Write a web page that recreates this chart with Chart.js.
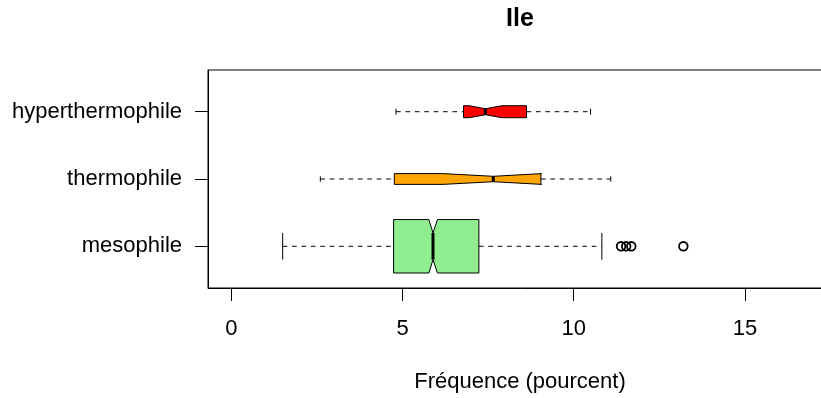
<!DOCTYPE html>
<html>
<head>
<meta charset="utf-8">
<script src="https://cdn.jsdelivr.net/npm/chart.js@4.4.1/dist/chart.umd.min.js"></script>
<style>
  html, body { margin: 0; padding: 0; background: #fff; overflow: hidden; }
  #wrap { width: 860px; height: 398px; }
</style>
</head>
<body>
<div id="wrap"><canvas id="c" width="860" height="398"></canvas></div>
<script>
// Five-number summaries per group (percent), bottom to top
const categories  = ['mesophile', 'thermophile', 'hyperthermophile'];
const whiskerLow  = [1.50, 2.60, 4.81];
const q1          = [4.74, 4.76, 6.78];
const median      = [5.89, 7.65, 7.42];
const q3          = [7.23, 9.04, 8.62];
const whiskerHigh = [10.82, 11.08, 10.49];
// Notch limits around the median
const notchLow    = [5.77, 6.18, 6.94];
const notchHigh   = [6.02, 9.06, 7.90];
// Outlying values of the mesophile group
const mesophileOutliers = [11.38, 11.53, 11.68, 13.20];
const xTicks = [0, 5, 10, 15];

// Appearance
const FONT = '"Liberation Sans", Arial, Helvetica, sans-serif';
const boxFill = ['#90EE90', '#FFA500', '#FF0000'];
const boxHalf = [0.397, 0.080, 0.089];   // half box thickness, in y-axis units (varwidth)

const boxPlugin = {
  id: 'notchedBoxes',
  beforeDatasetsDraw(chart) {
    const { ctx, scales: { x, y } } = chart;
    const X = v => x.getPixelForValue(v);
    const seg = (x0, y0, x1, y1) => { ctx.beginPath(); ctx.moveTo(x0, y0); ctx.lineTo(x1, y1); ctx.stroke(); };
    categories.forEach((c, i) => {
      const yc = y.getPixelForValue(i + 1);
      const hw = Math.abs(y.getPixelForValue(i + 1 + boxHalf[i]) - yc);
      const nw = hw / 2;
      ctx.save();
      ctx.strokeStyle = '#000';
      ctx.lineWidth = 1;
      // dashed whiskers
      ctx.setLineDash([4.7, 4.7]);
      seg(X(whiskerLow[i]), yc, X(q1[i]), yc);
      seg(X(q3[i]), yc, X(whiskerHigh[i]), yc);
      ctx.setLineDash([]);
      // staples
      seg(X(whiskerLow[i]), yc - nw, X(whiskerLow[i]), yc + nw);
      seg(X(whiskerHigh[i]), yc - nw, X(whiskerHigh[i]), yc + nw);
      // notched box
      const pts = [
        [q1[i], -hw], [notchLow[i], -hw], [median[i], -nw], [notchHigh[i], -hw], [q3[i], -hw],
        [q3[i], hw], [notchHigh[i], hw], [median[i], nw], [notchLow[i], hw], [q1[i], hw]
      ];
      ctx.beginPath();
      pts.forEach(([v, d], k) => k ? ctx.lineTo(X(v), yc + d) : ctx.moveTo(X(v), yc + d));
      ctx.closePath();
      ctx.fillStyle = boxFill[i];
      ctx.fill();
      ctx.stroke();
      // median bar
      ctx.lineWidth = 3;
      seg(X(median[i]), yc - nw, X(median[i]), yc + nw);
      ctx.restore();
    });
  },
  afterDraw(chart) {
    const { ctx, chartArea: a } = chart;
    ctx.save();
    ctx.strokeStyle = '#000';
    ctx.lineWidth = 1;
    ctx.strokeRect(a.left, a.top, a.right - a.left, a.bottom - a.top);
    ctx.restore();
  }
};

new Chart(document.getElementById('c'), {
  type: 'scatter',
  data: {
    datasets: [{
      label: 'outliers',
      data: mesophileOutliers.map(v => ({ x: v, y: 1 })),
      pointStyle: 'circle',
      pointRadius: 4.3,
      pointBorderWidth: 1.8,
      borderColor: '#000',
      backgroundColor: 'rgba(0,0,0,0)',
      showLine: false
    }]
  },
  options: {
    responsive: false,
    animation: false,
    devicePixelRatio: 1,
    layout: { padding: { left: 0, right: 28, top: 0, bottom: 0 } },
    plugins: {
      legend: { display: false },
      tooltip: { enabled: false },
      title: {
        display: true,
        text: 'Ile',
        color: '#000',
        fullSize: false,
        font: { family: FONT, size: 25, weight: 'bold', lineHeight: 1.2 },
        padding: { top: 4.2, bottom: 35.8 }
      }
    },
    scales: {
      x: {
        type: 'linear',
        min: -0.68,
        max: 17.54,
        afterBuildTicks: s => { s.ticks = xTicks.map(v => ({ value: v })); },
        afterFit: s => { s.height = 110; },
        ticks: { color: '#000', font: { family: FONT, size: 22 }, padding: 14.4, maxRotation: 0, autoSkip: false },
        grid: { display: true, drawOnChartArea: false, drawTicks: true, tickLength: 13, color: '#000' },
        border: { display: true, color: '#000' },
        title: {
          display: true,
          text: 'Fréquence (pourcent)',
          color: '#000',
          font: { family: FONT, size: 22, lineHeight: 1.2 },
          padding: { top: 0, bottom: 3 }
        }
      },
      y: {
        type: 'linear',
        min: 0.38,
        max: 3.62,
        afterBuildTicks: s => { s.ticks = categories.map((c, i) => ({ value: i + 1 })); },
        afterFit: s => { s.width = 208; },
        ticks: { color: '#000', font: { family: FONT, size: 22 }, padding: 13, callback: v => categories[v - 1] },
        grid: { display: true, drawOnChartArea: false, drawTicks: true, tickLength: 13, color: '#000' },
        border: { display: true, color: '#000' }
      }
    }
  },
  plugins: [boxPlugin]
});
</script>
</body>
</html>
